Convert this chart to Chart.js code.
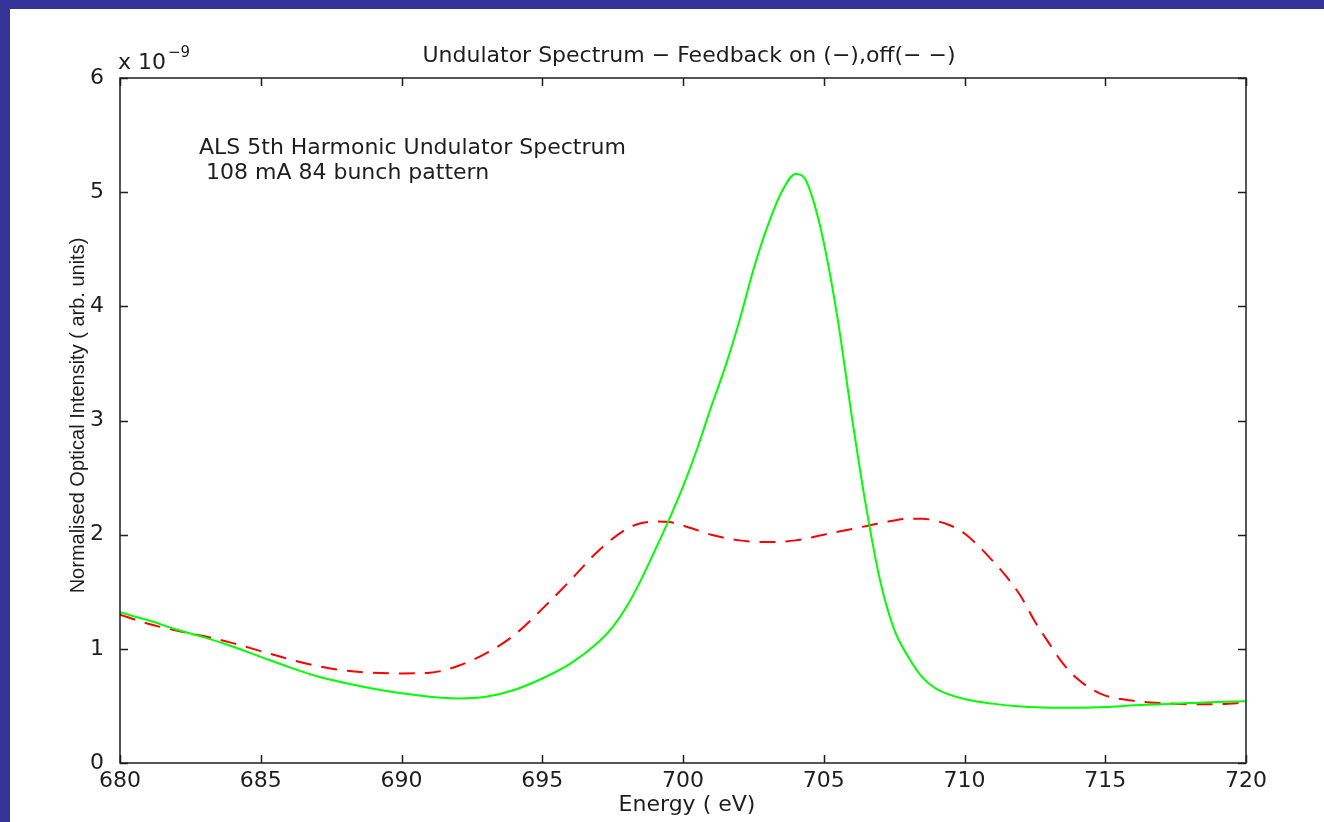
<!DOCTYPE html>
<html>
<head>
<meta charset="utf-8">
<title>Undulator Spectrum</title>
<script src="https://cdn.jsdelivr.net/npm/chart.js@4.4.1/dist/chart.umd.min.js"></script>
<style>
  html, body { margin: 0; padding: 0; background: #ffffff; overflow: hidden; }
  #topBar { position: absolute; left: 0; top: 0; width: 1324px; height: 9px; background: #333399; }
  #leftBar { position: absolute; left: 0; top: 0; width: 10px; height: 822px; background: #333399; }
  #spectrumChart { position: absolute; left: 0; top: 0; }
</style>
</head>
<body>
<div id="topBar"></div>
<div id="leftBar"></div>
<canvas id="spectrumChart" width="1324" height="822"></canvas>
<script>
// Feedback on (solid green) - energy in eV, intensity in units of 1e-9
const energyOn = [680, 681, 682, 683, 684, 685, 686, 687, 688, 689, 690, 691, 692, 693, 694, 695, 696, 697,
    697.5, 698, 698.5, 699, 699.5, 700, 700.5, 701, 701.5, 702, 702.5, 703, 703.5, 704, 704.3, 704.6, 705, 705.5,
    706, 706.5, 707, 707.5, 708, 708.5, 709, 710, 711, 712, 713, 714, 715, 716, 717, 718, 719, 720];
const intensityOn = [1.32, 1.25, 1.17, 1.10, 1.02, 0.93, 0.84, 0.76, 0.70, 0.65, 0.61, 0.58, 0.565, 0.58, 0.64, 0.74, 0.87, 1.06,
    1.19, 1.37, 1.60, 1.86, 2.13, 2.42, 2.75, 3.12, 3.47, 3.87, 4.32, 4.70, 5.00, 5.16, 5.13, 4.95, 4.56, 3.88,
    3.03, 2.25, 1.60, 1.17, 0.93, 0.75, 0.65, 0.56, 0.52, 0.495, 0.485, 0.485, 0.49, 0.505, 0.515, 0.525, 0.535, 0.54];

// Feedback off (dashed red)
const energyOff = [680, 681, 682, 683, 684, 685, 686, 687, 688, 689, 690, 691, 692, 693, 694, 695, 696, 697,
    698, 698.5, 699, 699.5, 700, 700.5, 701, 702, 703, 704, 705, 706, 707, 708, 708.5, 709, 709.5, 710,
    710.5, 711, 711.5, 712, 712.5, 713, 713.5, 714, 714.5, 715, 716, 717, 718, 719, 720];
const intensityOff = [1.30, 1.22, 1.16, 1.11, 1.05, 0.98, 0.91, 0.85, 0.81, 0.79, 0.785, 0.79, 0.85, 0.96, 1.12, 1.35, 1.60, 1.86,
    2.05, 2.10, 2.115, 2.11, 2.08, 2.04, 2.00, 1.95, 1.935, 1.95, 2.00, 2.05, 2.10, 2.14, 2.14, 2.12, 2.08, 2.01,
    1.90, 1.77, 1.63, 1.46, 1.24, 1.05, 0.87, 0.74, 0.65, 0.59, 0.545, 0.525, 0.515, 0.515, 0.53];

const xTicks = [680, 685, 690, 695, 700, 705, 710, 715, 720];
const yTicks = [0, 1, 2, 3, 4, 5, 6];

const titleText = "Undulator Spectrum \u2212 Feedback on (\u2212),off(\u2212 \u2212)";
const noteLines = ["ALS 5th Harmonic Undulator Spectrum", " 108 mA 84 bunch pattern"];
const xLabel = "Energy ( eV)";
const yLabel = "Normalised Optical Intensity ( arb. units)";

const FONT = "'DejaVu Sans', sans-serif";
const INK = "#1e1e1e";

function toPoints(xs, ys) {
    return xs.map((x, i) => ({ x: x, y: ys[i] }));
}

// box, inward ticks and all the free text around the axes
const framePlugin = {
    id: "frame",
    afterDraw(chart) {
        const ctx = chart.ctx;
        const area = chart.chartArea;
        const xs = chart.scales.x;
        const ys = chart.scales.y;
        const tick = 8;

        ctx.save();
        ctx.strokeStyle = INK;
        ctx.lineWidth = 1.5;
        ctx.strokeRect(area.left, area.top, area.right - area.left, area.bottom - area.top);

        ctx.beginPath();
        xTicks.forEach(v => {
            const px = Math.round(xs.getPixelForValue(v)) + 0.5;
            ctx.moveTo(px, area.bottom);
            ctx.lineTo(px, area.bottom - tick);
            ctx.moveTo(px, area.top);
            ctx.lineTo(px, area.top + tick);
        });
        yTicks.forEach(v => {
            const py = Math.round(ys.getPixelForValue(v)) + 0.5;
            ctx.moveTo(area.left, py);
            ctx.lineTo(area.left + tick, py);
            ctx.moveTo(area.right, py);
            ctx.lineTo(area.right - tick, py);
        });
        ctx.stroke();

        ctx.fillStyle = INK;
        ctx.textBaseline = "alphabetic";

        // title
        ctx.font = "22px " + FONT;
        ctx.textAlign = "center";
        ctx.fillText(titleText, (area.left + area.right) / 2 + 6, 62);

        // x axis label
        ctx.fillText(xLabel, (area.left + area.right) / 2 + 4, 811);

        // exponent on the y axis
        ctx.textAlign = "left";
        ctx.fillText("x 10", area.left - 2, 69);
        ctx.font = "15px " + FONT;
        ctx.fillText("\u22129", area.left + 48, 57);

        // note inside the plot
        ctx.font = "22px " + FONT;
        ctx.fillText(noteLines[0], 199, 154);
        ctx.fillText(noteLines[1], 199, 179);

        // y axis label
        ctx.translate(84, (area.top + area.bottom) / 2 - 5);
        ctx.rotate(-Math.PI / 2);
        ctx.textAlign = "center";
        ctx.font = "20px 'Liberation Sans', Arial, sans-serif";
        ctx.fillText(yLabel, 0, 0);
        ctx.restore();
    }
};

new Chart(document.getElementById("spectrumChart").getContext("2d"), {
    type: "line",
    data: {
        datasets: [
            {
                label: "Feedback on",
                data: toPoints(energyOn, intensityOn),
                borderColor: "#00ff00",
                borderWidth: 2,
                pointRadius: 0,
                cubicInterpolationMode: "monotone",
                fill: false
            },
            {
                label: "Feedback off",
                data: toPoints(energyOff, intensityOff),
                borderColor: "#ff0000",
                borderWidth: 2,
                borderDash: [16, 10],
                pointRadius: 0,
                cubicInterpolationMode: "monotone",
                fill: false
            }
        ]
    },
    options: {
        responsive: false,
        animation: false,
        layout: { padding: { left: 0, top: 78, right: 78, bottom: 0 } },
        plugins: {
            legend: { display: false },
            title: { display: false },
            tooltip: { enabled: false }
        },
        scales: {
            x: {
                type: "linear",
                min: 680,
                max: 720,
                afterFit: scale => { scale.height = 59; },
                afterBuildTicks: scale => { scale.ticks = xTicks.map(v => ({ value: v })); },
                grid: { display: false },
                border: { display: false },
                ticks: { color: INK, padding: -3, maxRotation: 0, font: { family: FONT, size: 22 } }
            },
            y: {
                type: "linear",
                min: 0,
                max: 6,
                afterFit: scale => { scale.width = 120; },
                afterBuildTicks: scale => { scale.ticks = yTicks.map(v => ({ value: v })); },
                grid: { display: false },
                border: { display: false },
                ticks: { color: INK, padding: 8, font: { family: FONT, size: 22 } }
            }
        }
    },
    plugins: [framePlugin]
});
</script>
</body>
</html>
